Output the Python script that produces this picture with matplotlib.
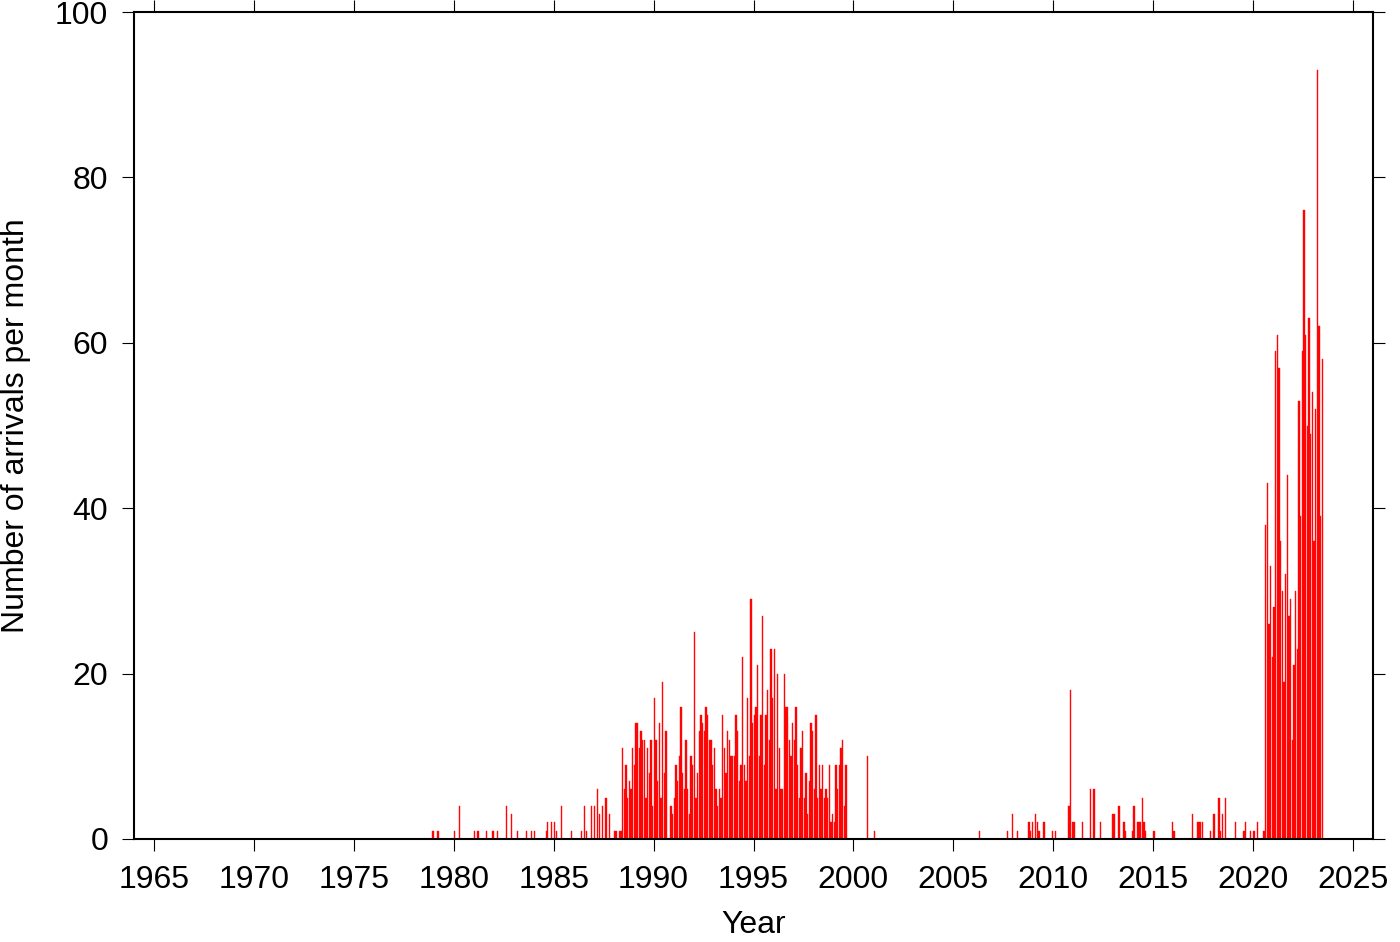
import numpy as np
import matplotlib
matplotlib.use("Agg")
import matplotlib.pyplot as plt

plt.rcParams['font.family'] = ['Liberation Sans', 'DejaVu Sans']

# monthly counts, Apr 1987 .. Aug 1999
dense1_start = (1987, 4)
dense1_counts = [3, 0, 4, 0, 5, 0, 3, 0, 0, 1, 1, 0, 1, 1, 11, 6, 9, 5, 7, 6,
                 11, 9, 14, 14, 11, 13, 12, 12, 5, 11, 8, 12, 4, 17, 12, 7, 14, 5, 19, 8,
                 13, 0, 0, 4, 3, 5, 9, 7, 10, 16, 8, 6, 12, 6, 3, 10, 9, 25, 5, 8,
                 13, 15, 14, 13, 16, 15, 12,
                 12, 9, 11, 6, 4, 6, 5, 15, 11, 8, 13, 12, 10, 10, 10, 15, 13, 7, 9, 22,
                 9, 7, 17, 10, 29, 14, 15, 16, 21, 10, 15, 27, 9, 15, 18, 12, 23, 17, 23, 6,
                 20, 11, 6, 6, 20, 16, 16, 12, 10, 14, 12, 16, 9, 5, 11, 13, 5, 8, 3,
                 7, 14, 13, 6, 15, 5, 9, 6, 9, 5, 6, 5, 9, 2, 3, 2, 9, 6, 9, 11, 12, 4, 9]

# monthly counts, Aug 2020 .. Jun 2023
dense2_start = (2020, 8)
dense2_counts = [38, 43, 26, 33, 22, 28, 59, 61, 57, 36, 30, 19, 32, 44, 27, 29, 12,
                 21, 30, 23, 53, 39, 59, 76, 61, 50, 63, 49, 54, 36, 52, 93, 62, 39, 58]

# isolated months
event_years = [1978, 1979, 1980, 1980, 1981, 1981, 1981, 1981, 1982, 1982, 1982,
               1983, 1983, 1983, 1984, 1984, 1984, 1984, 1985, 1985, 1985, 1985,
               1986, 1986, 1986, 1986, 1987, 1987, 2000, 2001,
               2006, 2007, 2007, 2008, 2008, 2008, 2008, 2009, 2009, 2009, 2009, 2009,
               2010, 2010, 2010, 2010, 2011, 2011, 2011, 2012, 2012, 2012,
               2013, 2013, 2013, 2013, 2013, 2014, 2014, 2014, 2014, 2014, 2014, 2014,
               2015, 2015, 2016, 2016, 2017, 2017, 2017, 2017, 2017,
               2018, 2018, 2018, 2018, 2018, 2019, 2019, 2019, 2019, 2020, 2020, 2020]
event_months = [12, 3, 1, 4, 1, 3, 8, 12, 3, 8, 11,
                3, 8, 11, 1, 8, 9, 11, 1, 2, 5, 11,
                5, 7, 8, 11, 1, 3, 9, 1,
                4, 9, 12, 3, 10, 11, 12, 2, 3, 4, 7, 12,
                2, 10, 11, 12, 1, 6, 11, 1, 5, 12,
                1, 4, 7, 8, 12, 1, 3, 4, 5, 6, 7, 8,
                1, 12, 1, 12, 3, 4, 5, 6, 11,
                1, 4, 5, 6, 8, 2, 7, 8, 11, 1, 3, 7]
event_counts = [1, 1, 1, 4, 1, 1, 1, 1, 1, 4, 3,
                1, 1, 1, 1, 1, 2, 2, 2, 1, 4, 1,
                1, 4, 1, 4, 4, 6, 10, 1,
                1, 1, 3, 1, 2, 1, 2, 3, 2, 1, 2, 1,
                1, 4, 18, 2, 2, 2, 6, 6, 2, 3,
                3, 4, 2, 1, 1, 4, 2, 2, 2, 5, 2, 1,
                1, 2, 1, 3, 2, 2, 2, 2, 1,
                3, 5, 1, 3, 5, 2, 1, 2, 1, 1, 2, 1]


def month_pos(year, month):
    return year + (month - 1) / 12 + 1 / 24


xs, ys = [], []
for (y0, m0), counts in [(dense1_start, dense1_counts), (dense2_start, dense2_counts)]:
    for i, c in enumerate(counts):
        k = (m0 - 1) + i
        xs.append(month_pos(y0 + k // 12, k % 12 + 1))
        ys.append(c)
for y, m, c in zip(event_years, event_months, event_counts):
    xs.append(month_pos(y, m))
    ys.append(c)

fig = plt.figure(figsize=(14, 9.42), dpi=100)
ax = fig.add_axes([134 / 1400, 1 - 839 / 942, (1373 - 134) / 1400, (839 - 12) / 942])

ax.bar(xs, ys, width=0.75 / 12, color='#ff0000', edgecolor='#ff1010', linewidth=0.3)

ax.set_xlim(1964, 2026)
ax.set_ylim(0, 100)
ax.set_xticks(np.arange(1965, 2026, 5))
ax.set_yticks(np.arange(0, 101, 20))
ax.tick_params(direction='out', length=8.6, width=0.8, pad=10, labelsize=23,
               top=True, right=True)
for s in ax.spines.values():
    s.set_linewidth(1.5)
    s.set_zorder(3)

ax.set_xlabel('Year', fontsize=23, labelpad=11)
ax.set_ylabel('Number of arrivals per month', fontsize=23, labelpad=17)

fig.savefig('out.png', dpi=100)
